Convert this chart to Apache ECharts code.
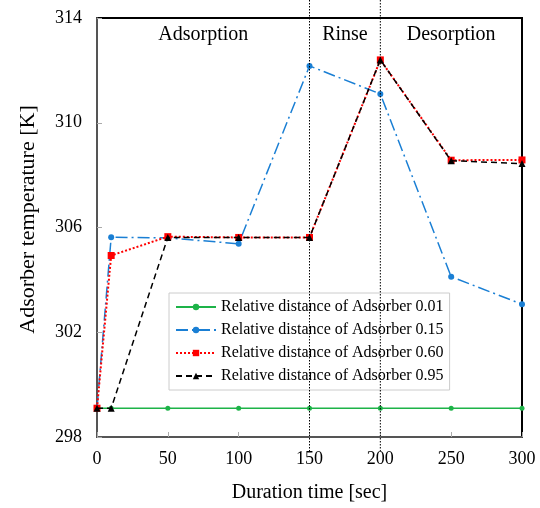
<!DOCTYPE html>
<html><head><meta charset="utf-8">
<script src="https://cdn.jsdelivr.net/npm/echarts@6/dist/echarts.min.js"></script>
<style>html,body{margin:0;padding:0;background:#fff}#c{width:540px;height:508px}</style>
</head><body><div id="c"></div>
<script>
const times = [0, 10, 50, 100, 150, 200, 250, 300];
const s001 = [299.1, 299.1, 299.1, 299.1, 299.1, 299.1, 299.1, 299.1];
const s015 = [299.1, 305.63, 305.6, 305.38, 312.17, 311.1, 304.12, 303.07];
const s060 = [299.1, 304.93, 305.65, 305.62, 305.62, 312.4, 308.57, 308.58];
const s095 = [299.1, 299.1, 305.62, 305.62, 305.62, 312.4, 308.55, 308.44];
const names = ['Relative distance of Adsorber 0.01','Relative distance of Adsorber 0.15','Relative distance of Adsorber 0.60','Relative distance of Adsorber 0.95'];
const phaseBounds = [150, 200];
const phases = [{name:'Adsorption', x:75}, {name:'Rinse', x:175}, {name:'Desorption', x:250}];
const yTicks = [298, 302, 306, 310, 314];

const font = 'Liberation Serif';
const pair = arr => times.map((t,i)=>[t, arr[i]]);
const chart = echarts.init(document.getElementById('c'));
chart.setOption({
  animation:false,
  textStyle:{fontFamily:font},
  grid:{left:97, right:18, top:18, bottom:70, show:true, borderColor:'#000', borderWidth:2, backgroundColor:'transparent'},
  xAxis:{type:'value', min:0, max:300, interval:50, name:'Duration time [sec]', nameLocation:'middle', nameGap:46,
    nameTextStyle:{fontFamily:font, fontSize:20, color:'#000'},
    axisLine:{show:true, lineStyle:{color:'#555', width:2}}, axisTick:{inside:true, length:5, lineStyle:{color:'#aaa'}},
    axisLabel:{fontFamily:font, fontSize:18, color:'#000', margin:13}, splitLine:{show:false}},
  yAxis:{type:'value', min:yTicks[0], max:yTicks[yTicks.length-1], interval:4, name:'Adsorber temperature [K]', nameLocation:'middle', nameGap:58,
    nameTextStyle:{fontFamily:font, fontSize:22, color:'#000', padding:[0,0,0,16]},
    axisLine:{show:true, lineStyle:{color:'#555', width:2}}, axisTick:{inside:true, length:5, lineStyle:{color:'#aaa'}},
    axisLabel:{fontFamily:font, fontSize:18, color:'#000', margin:15}, splitLine:{show:false}},
  legend:{left:169, top:293, width:281, orient:'vertical', itemGap:7, itemWidth:40, itemHeight:8,
    backgroundColor:'#fff', borderColor:'#ccc', borderWidth:1, padding:[6,6,6,6],
    textStyle:{fontFamily:font, fontSize:16, color:'#000'}, data:names},
  series:[
    {name:names[0], type:'line', data:pair(s001), symbol:'circle', symbolSize:5, color:'#1db348', lineStyle:{width:1.5, color:'#1db348'}, z:2},
    {name:names[1], type:'line', data:pair(s015), symbol:'circle', symbolSize:6, color:'#1a7fd4', lineStyle:{width:1.5, type:[12,4,2,4], color:'#1a7fd4'}, z:3},
    {name:names[2], type:'line', data:pair(s060), symbol:'rect', symbolSize:7, color:'#ff0000', lineStyle:{width:2, type:[2,2], color:'#ff0000'}, z:4},
    {name:names[3], type:'line', data:pair(s095), symbol:'triangle', symbolSize:7, color:'#000', lineStyle:{width:1.5, type:[6,4], color:'#000'}, z:5}
  ]
});
function addGraphics(){
  const els = [];
  const top = chart.convertToPixel({gridIndex:0}, [0, 314])[1];
  const bot = chart.convertToPixel({gridIndex:0}, [0, 298])[1];
  phaseBounds.forEach(b=>{
    const x = chart.convertToPixel({gridIndex:0}, [b, 298])[0];
    els.push({type:'line', shape:{x1:x, y1:top-18, x2:x, y2:bot+14}, style:{stroke:'#000', lineWidth:1, lineDash:[1.5,1.5]}, z:10});
  });
  phases.forEach(p=>{
    const pt = chart.convertToPixel({gridIndex:0}, [p.x, 313.35]);
    els.push({type:'text', x:pt[0], y:pt[1], style:{text:p.name, font:'20px "Liberation Serif"', fill:'#000', align:'center', verticalAlign:'middle'}, z:10});
  });
  chart.setOption({graphic:els});
}
addGraphics();
</script></body></html>
